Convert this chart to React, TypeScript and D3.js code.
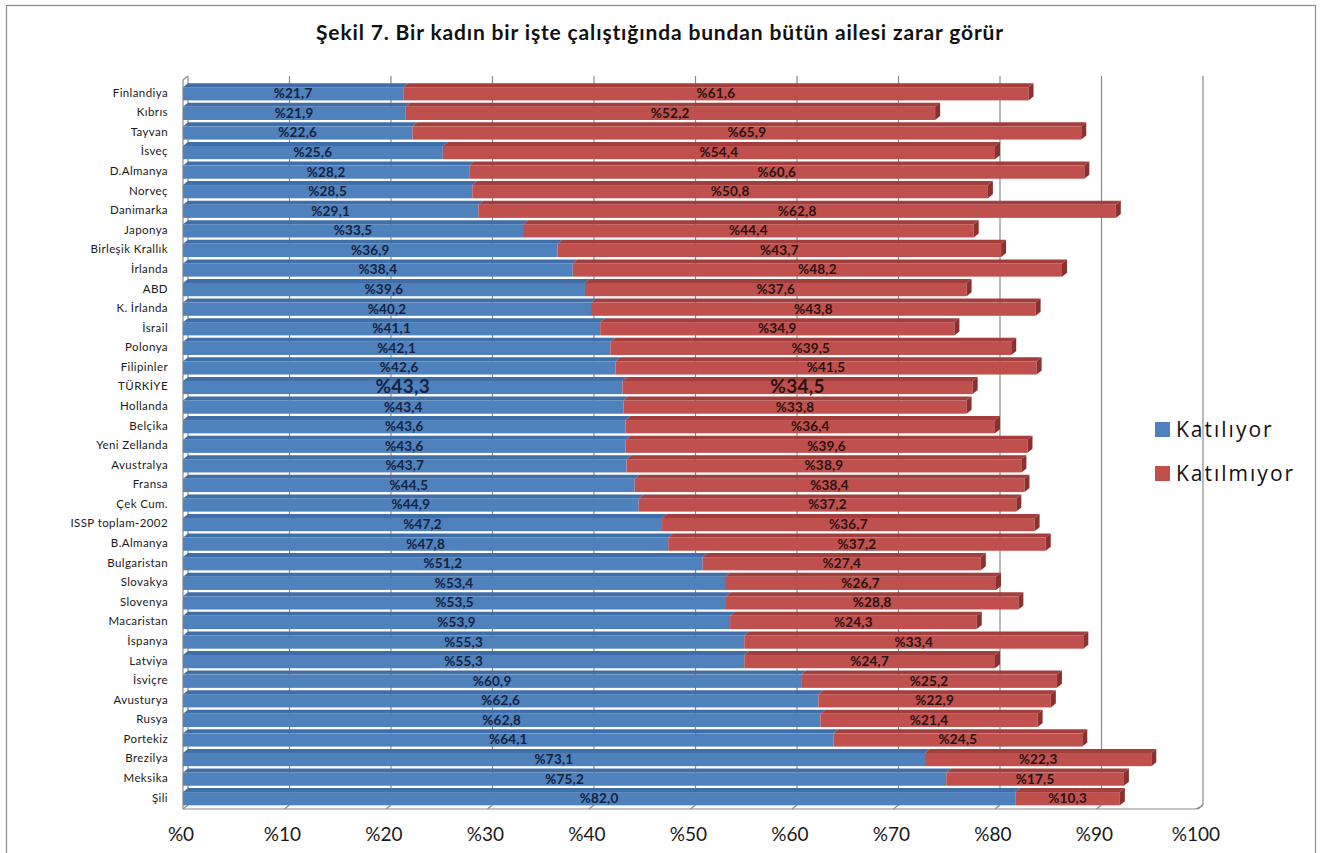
import React from "react";
import * as d3 from "d3";

const categories = [
  "Finlandiya", "Kıbrıs", "Tayvan", "İsveç", "D.Almanya", "Norveç", "Danimarka", "Japonya",
  "Birleşik Krallık", "İrlanda", "ABD", "K. İrlanda", "İsrail", "Polonya", "Filipinler", "TÜRKİYE",
  "Hollanda", "Belçika", "Yeni Zellanda", "Avustralya", "Fransa", "Çek Cum.", "ISSP toplam-2002",
  "B.Almanya", "Bulgaristan", "Slovakya", "Slovenya", "Macaristan", "İspanya", "Latviya", "İsviçre",
  "Avusturya", "Rusya", "Portekiz", "Brezilya", "Meksika", "Şili",
];
const katiliyor = [
  21.7, 21.9, 22.6, 25.6, 28.2, 28.5, 29.1, 33.5, 36.9, 38.4, 39.6, 40.2, 41.1, 42.1, 42.6, 43.3,
  43.4, 43.6, 43.6, 43.7, 44.5, 44.9, 47.2, 47.8, 51.2, 53.4, 53.5, 53.9, 55.3, 55.3, 60.9, 62.6,
  62.8, 64.1, 73.1, 75.2, 82.0,
];
const katilmiyor = [
  61.6, 52.2, 65.9, 54.4, 60.6, 50.8, 62.8, 44.4, 43.7, 48.2, 37.6, 43.8, 34.9, 39.5, 41.5, 34.5,
  33.8, 36.4, 39.6, 38.9, 38.4, 37.2, 36.7, 37.2, 27.4, 26.7, 28.8, 24.3, 33.4, 24.7, 25.2, 22.9,
  21.4, 24.5, 22.3, 17.5, 10.3,
];
const xTicks = [0, 10, 20, 30, 40, 50, 60, 70, 80, 90, 100];
const seriesNames = ["Katılıyor", "Katılmıyor"];
const highlight = "TÜRKİYE";

const W = 1321;
const H = 853;
const FONT = "Lato, 'Open Sans', sans-serif";
const DX = 5;
const DY = 4;

const fmt = (v: number) => "%" + v.toFixed(1).replace(".", ",");

export default function App() {
  const x = d3.scaleLinear().domain([0, 100]).range([183, 1198]);
  const y = d3.scaleBand<string>().domain(categories).range([82, 806.5]).paddingInner(0.12).paddingOuter(0.06);
  const bh = y.bandwidth();
  const floorY = 809;
  const wallTop = 76;

  const colors = [
    { front: "#4F81BD", top: "#3F6EA8", side: "#34608F", text: "#14233f" },
    { front: "#C0504D", top: "#A23E3B", side: "#8A302E", text: "#2a1210" },
  ];

  const bars: React.ReactNode[] = [];
  const labels: React.ReactNode[] = [];
  categories.forEach((c, i) => {
    const segs = [
      [0, katiliyor[i]],
      [katiliyor[i], katiliyor[i] + katilmiyor[i]],
    ];
    const y0 = y(c)!;
    const y1 = y0 + bh;
    segs.forEach(([a, b], s) => {
      const x0 = x(a);
      const x1 = x(b);
      const col = colors[s];
      const ft = y0 + DY;
      bars.push(
        <g key={c + s}>
          <polygon
            points={`${x0},${ft} ${x0 + DX},${y0} ${x1 + DX},${y0} ${x1},${ft}`}
            fill={col.top}
          />
          <rect x={x0} y={ft} width={x1 - x0} height={y1 - ft} fill={col.front} />
          {s === 1 && (
            <polygon
              points={`${x1},${ft} ${x1 + DX},${y0} ${x1 + DX},${y1 - DY} ${x1},${y1}`}
              fill={col.side}
            />
          )}
        </g>
      );
      const big = c === highlight;
      labels.push(
        <text
          key={"l" + c + s}
          x={(x0 + x1) / 2}
          y={(ft + y1) / 2 + 1}
          textAnchor="middle"
          dominantBaseline="middle"
          fontFamily={FONT}
          fontWeight={700}
          fontSize={big ? 19 : 13.5}
          letterSpacing={big ? 0.3 : 0.2}
          fill={col.text}
        >
          {fmt(s === 0 ? katiliyor[i] : katilmiyor[i])}
        </text>
      );
    });
  });

  return (
    <svg width={W} height={H} style={{ position: "absolute", left: 0, top: 0, background: "#fff" }}>
      <rect x={6.5} y={5.5} width={1309} height={900} fill="#fff" stroke="#8c8c8c" strokeWidth={1.2} />
      <text
        x={660}
        y={40}
        textAnchor="middle"
        fontFamily={FONT}
        fontWeight={700}
        fontSize={21}
        letterSpacing={0.85}
        fill="#111"
      >
        Şekil 7. Bir kadın bir işte çalıştığında bundan  bütün ailesi zarar görür
      </text>

      {/* back wall gridlines */}
      {xTicks.map((t) => (
        <g key={"g" + t}>
          <line
            x1={x(t) + DX}
            x2={x(t) + DX}
            y1={wallTop}
            y2={floorY - DY}
            stroke="#8a8a8a"
            strokeWidth={1.2}
          />
          <line x1={x(t)} x2={x(t) + DX} y1={floorY} y2={floorY - DY} stroke="#8a8a8a" strokeWidth={1.2} />
        </g>
      ))}
      {/* left wall */}
      <line x1={x(0)} x2={x(0)} y1={wallTop + DY} y2={floorY} stroke="#8a8a8a" strokeWidth={1.2} />
      <line x1={x(0)} x2={x(0) + DX} y1={wallTop + DY} y2={wallTop} stroke="#8a8a8a" strokeWidth={1.2} />
      {/* floor */}
      <path
        d={`M${x(0)},${floorY} L${x(100) - 3},${floorY} Q${x(100)},${floorY} ${x(100) + 2},${floorY - 2} L${x(100) + DX},${floorY - DY}`}
        fill="none"
        stroke="#8a8a8a"
        strokeWidth={1.2}
      />

      {bars}
      {labels}

      {categories.map((c) => (
        <text
          key={"c" + c}
          x={168}
          y={y(c)! + bh / 2 + 2}
          textAnchor="end"
          dominantBaseline="middle"
          fontFamily={FONT}
          fontSize={11.5}
          letterSpacing={0.4}
          fill="#1a1a1a"
        >
          {c}
        </text>
      ))}

      {xTicks.map((t) => (
        <text
          key={"t" + t}
          x={x(t) - 2}
          y={841}
          textAnchor="middle"
          fontFamily={FONT}
          fontSize={19}
          fill="#1a1a1a"
        >
          {"%" + t}
        </text>
      ))}

      {seriesNames.map((n, i) => (
        <g key={n}>
          <rect x={1155} y={422 + i * 44} width={15} height={15} fill={colors[i].front} />
          <text
            x={1176}
            y={431 + i * 44}
            dominantBaseline="middle"
            fontFamily="'Open Sans', Lato, sans-serif"
            fontSize={21}
            letterSpacing={2}
            fill="#111"
          >
            {n}
          </text>
        </g>
      ))}
    </svg>
  );
}
